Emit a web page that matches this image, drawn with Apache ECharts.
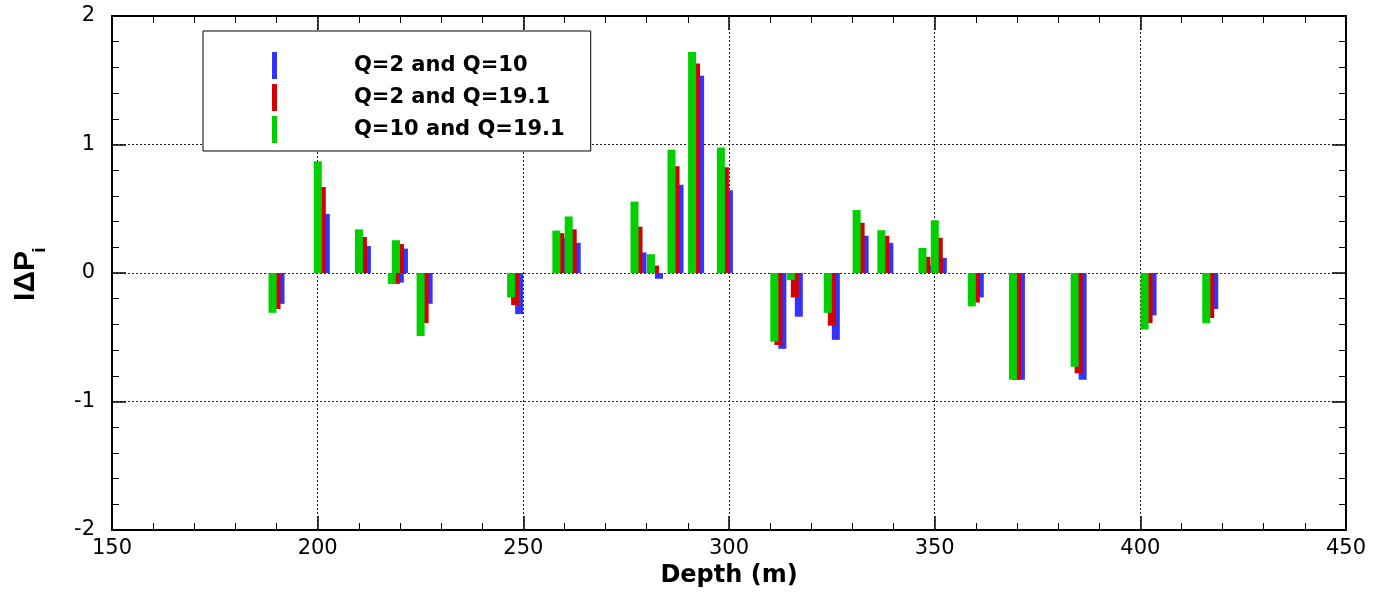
<!DOCTYPE html>
<html><head><meta charset="utf-8">
<script src="https://cdn.jsdelivr.net/npm/echarts@6/dist/echarts.min.js"></script>
<style>html,body{margin:0;padding:0;background:#fff}#c{width:1374px;height:594px}</style>
</head><body><div id="c"></div>
<script>
// Depth (m) of each bar group
const depths = [190, 201, 211, 219, 220, 226, 248, 259, 262, 278, 282, 287, 292, 299, 312, 316, 325, 332, 338, 348, 351, 360, 370, 385, 402, 417];
// Q=2 and Q=10 (blue)
const q2q10 = [-0.24, 0.46, 0.21, -0.075, 0.19, -0.24, -0.32, 0.27, 0.235, 0.16, -0.045, 0.686, 1.535, 0.644, -0.59, -0.34, -0.52, 0.29, 0.235, 0.06, 0.118, -0.19, -0.83, -0.83, -0.33, -0.28];
// Q=2 and Q=19.1 (red)
const q2q191 = [-0.28, 0.67, 0.28, -0.085, 0.225, -0.39, -0.25, 0.31, 0.34, 0.36, 0.058, 0.83, 1.63, 0.823, -0.56, -0.19, -0.41, 0.39, 0.29, 0.126, 0.274, -0.23, -0.83, -0.78, -0.39, -0.35];
// Q=10 and Q=19.1 (green)
const q10q191 = [-0.31, 0.87, 0.34, -0.085, 0.255, -0.49, -0.19, 0.33, 0.44, 0.556, 0.146, 0.96, 1.72, 0.977, -0.535, -0.056, -0.31, 0.49, 0.333, 0.196, 0.41, -0.26, -0.83, -0.73, -0.44, -0.39];

const seriesNames = ['Q=2 and Q=10', 'Q=2 and Q=19.1', 'Q=10 and Q=19.1'];
const xRange = { min: 150, max: 450, interval: 50 };
const yRange = { min: -2, max: 2, interval: 1 };
const xTitle = 'Depth (m)';
const yTitleMain = 'I\u0394P';
const yTitleSub = 'i';

const pair = arr => depths.map((d, i) => [d, arr[i]]);

const chart = echarts.init(document.getElementById('c'), null, { renderer: 'canvas' });

const tickCommon = {
  axisLine: { show: true, onZero: false, lineStyle: { color: '#000', width: 2 } },
  axisTick: { show: true, inside: true, length: 14, lineStyle: { color: '#000', width: 1.5 } },
  minorTick: { show: true, splitNumber: 5, length: 7, lineStyle: { color: '#000', width: 1 } }
};
const labelFont = { fontFamily: 'DejaVu Sans', fontSize: 21, color: '#000' };
const gridLine = { show: true, lineStyle: { color: '#222', type: [2, 2], width: 1 } };

function barSeries(name, arr, color, z) {
  return {
    name: name, type: 'bar', xAxisIndex: 0, yAxisIndex: 0,
    data: pair(arr), barWidth: 8, barGap: '-50%', z: z,
    itemStyle: { color: color }, emphasis: { disabled: true }
  };
}

chart.setOption({
  animation: false,
  backgroundColor: '#fff',
  grid: { left: 112, right: 28, top: 16, bottom: 64, containLabel: false },
  xAxis: [
    Object.assign({
      type: 'value', position: 'bottom', min: xRange.min, max: xRange.max, interval: xRange.interval,
      axisLabel: Object.assign({ margin: 8 }, labelFont),
      splitLine: gridLine,
      name: xTitle, nameLocation: 'middle', nameGap: 28,
      nameTextStyle: { fontFamily: 'DejaVu Sans', fontWeight: 'bold', fontSize: 24, color: '#000' }
    }, tickCommon),
    Object.assign({
      type: 'value', position: 'top', min: xRange.min, max: xRange.max, interval: xRange.interval,
      axisLabel: { show: false }, splitLine: { show: false }
    }, tickCommon)
  ],
  yAxis: [
    Object.assign({
      type: 'value', position: 'left', min: yRange.min, max: yRange.max, interval: yRange.interval,
      axisLabel: Object.assign({ margin: 17 }, labelFont),
      splitLine: gridLine
    }, tickCommon),
    Object.assign({
      type: 'value', position: 'right', min: yRange.min, max: yRange.max, interval: yRange.interval,
      axisLabel: { show: false }, splitLine: { show: false }
    }, tickCommon)
  ],
  legend: {
    show: true, orient: 'vertical', left: 203, top: 31,
    padding: [21, 26, 8, 69], itemGap: 5, itemWidth: 5, itemHeight: 27,
    icon: 'rect', backgroundColor: '#fff', borderColor: '#000', borderWidth: 1, z: 10,
    data: seriesNames,
    textStyle: { fontFamily: 'DejaVu Sans', fontWeight: 'bold', fontSize: 21, color: '#000', padding: [0, 0, 0, 72] },
    selectedMode: false
  },
  graphic: [
    { type: 'text', x: 26, y: 276, rotation: Math.PI / 2, z: 10,
      style: { text: yTitleMain, font: 'bold 30px "Liberation Sans"', fill: '#000', align: 'center', verticalAlign: 'middle' } },
    { type: 'text', x: 40, y: 250, rotation: Math.PI / 2, z: 10,
      style: { text: yTitleSub, font: 'bold 19px "Liberation Sans"', fill: '#000', align: 'center', verticalAlign: 'middle' } }
  ],
  series: [
    barSeries(seriesNames[2], q10q191, '#00D000', 5),
    barSeries(seriesNames[1], q2q191, '#D40000', 4),
    barSeries(seriesNames[0], q2q10, '#3333FF', 3)
  ]
});
</script>
</body></html>
